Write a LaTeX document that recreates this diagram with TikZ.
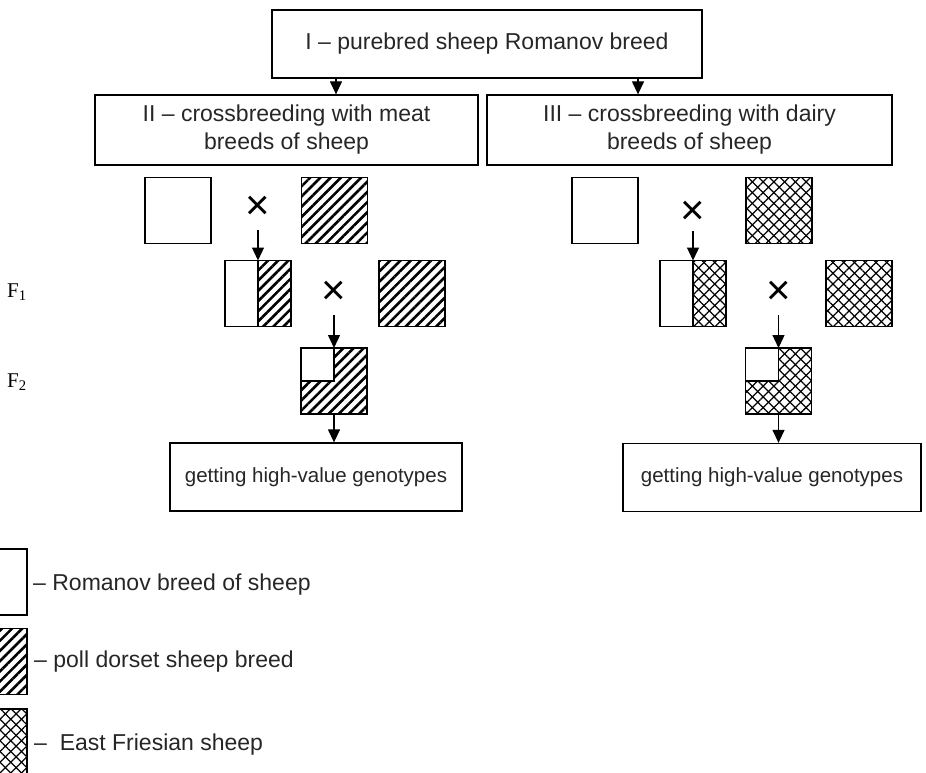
\documentclass[tikz,border=0pt]{standalone}
\usepackage{fontspec}
\setmainfont{Liberation Sans}
\newfontfamily\genfont{Liberation Serif}
\usetikzlibrary{arrows.meta,patterns.meta}

\begin{document}
\begin{tikzpicture}[
    x=1pt, y=-1pt,
    stage/.style={rectangle, draw, line width=1.3pt, inner sep=2pt, align=center, font=\fontsize{23}{28}\selectfont, text=black!85},
    goal/.style={rectangle, draw, line width=1.3pt, minimum height=68pt, font=\fontsize{20.5}{24}\selectfont, text=black!85},
    sheep/.style={rectangle, draw, line width=1.6pt, minimum size=66pt, inner sep=0pt, outer sep=0pt},
    meat/.style={pattern={Lines[angle=45, distance=7.2pt, line width=2.6pt]}},
    dairy/.style={pattern={Lines[angle=45, distance=7.6pt, line width=1.3pt]},
                  postaction={pattern={Lines[angle=-45, distance=7.6pt, line width=1.3pt]}}},
    cross/.style={font=\fontsize{42}{42}\selectfont, inner sep=0pt},
    gen/.style={font=\genfont\fontsize{21}{24}\selectfont},
    legend/.style={anchor=west, inner sep=0pt, font=\fontsize{23}{28}\selectfont, text=black!85},
    link/.style={line width=1.3pt, -{Triangle[width=12pt, length=13pt]}},
    seam/.style={line width=1.6pt}
]
  \clip (0,0) rectangle (926,773);

  % stages
  \node[stage, minimum width=430pt, minimum height=68pt] (pure) at (487,44) {I -- purebred sheep Romanov breed};
  \node[stage, minimum width=383pt, minimum height=70pt] (meat) at (286.5,130) {II -- crossbreeding with meat\\breeds of sheep};
  \node[stage, minimum width=405pt, minimum height=70pt] (dairy) at (689.5,130) {III -- crossbreeding with dairy\\breeds of sheep};

  % generation labels
  \node[gen] (f1) at (17,292) {F\textsubscript{1}};
  \node[gen] (f2) at (17,382) {F\textsubscript{2}};

  % meat branch
  \node[sheep] (mrom) at (178,210.5) {};
  \node[sheep, meat] (mpd) at (334.5,210.5) {};
  \node[cross] (mx1) at (258,208) {×};
  \node[sheep] (mf1) at (258,293.5) {};
  \fill[meat] (mf1.north) rectangle (mf1.south east);
  \draw[seam] (mf1.north) -- (mf1.south);
  \node[sheep, meat] (mpd2) at (412,293.5) {};
  \node[cross] (mx2) at (334,293) {×};
  \node[sheep, meat] (mf2) at (334,381) {};
  \filldraw[seam, fill=white] (mf2.north west) rectangle (mf2.center);
  \node[goal, minimum width=292pt] (mgoal) at (316,477) {getting high-value genotypes};

  % dairy branch
  \node[sheep] (drom) at (605,210.5) {};
  \node[sheep, dairy] (def) at (779,210.5) {};
  \node[cross] (dx1) at (693,213) {×};
  \node[sheep] (df1) at (693,293.5) {};
  \fill[dairy] (df1.north) rectangle (df1.south east);
  \draw[seam] (df1.north) -- (df1.south);
  \node[sheep, dairy] (def2) at (859,293.5) {};
  \node[cross] (dx2) at (778.5,293) {×};
  \node[sheep, dairy] (df2) at (778.5,381) {};
  \filldraw[seam, fill=white] (df2.north west) rectangle (df2.center);
  \node[goal, minimum width=298pt] (dgoal) at (772,477.5) {getting high-value genotypes};

  % arrows
  \draw[link] ([xshift=-151pt]pure.south) -- ([xshift=-151pt]pure.south |- meat.north);
  \draw[link] ([xshift=151pt]pure.south) -- ([xshift=151pt]pure.south |- dairy.north);
  \draw[link, shorten <=10pt] (mx1.south) -- (mf1.north);
  \draw[link, shorten <=10pt] (mx2.south) -- (mf2.north);
  \draw[link] (mf2.south) -- (mf2.south |- mgoal.north);
  \draw[link, shorten <=6pt] (dx1.south) -- (df1.north);
  \draw[link, shorten <=10pt] (dx2.south) -- (df2.north);
  \draw[link] (df2.south) -- (df2.south |- dgoal.north);

  % legend
  \node[sheep] (keyrom) at (-6,582) {};
  \node[legend] (keyromtxt) at (33,585) {-- Romanov breed of sheep};
  \node[sheep, meat] (keypd) at (-6,661.5) {};
  \node[legend] (keypdtxt) at (34,662) {-- poll dorset sheep breed};
  \node[sheep, dairy] (keyef) at (-6,742) {};
  \node[legend] (keyeftxt) at (34,745) {--~\ East Friesian sheep};
\end{tikzpicture}
\end{document}
